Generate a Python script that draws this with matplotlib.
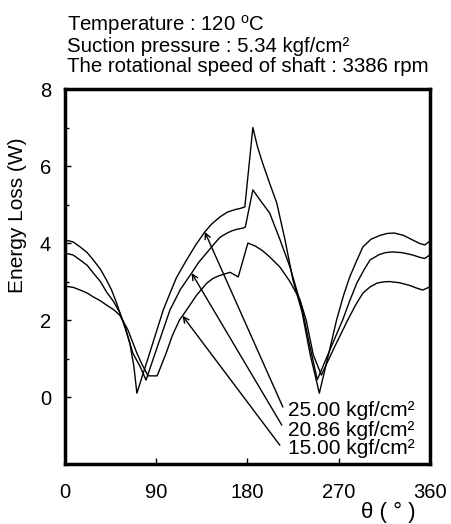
import matplotlib
matplotlib.use("Agg")
from matplotlib import pyplot as plt

plt.rcParams["font.family"] = ["Liberation Sans", "DejaVu Sans"]
plt.rcParams["mathtext.fontset"] = "custom"
plt.rcParams["mathtext.rm"] = "Liberation Sans"

# Energy loss curves, theta in degrees, loss in W.
theta_25 = [0, 8, 15, 22, 28, 35, 41, 46, 51, 54, 59, 64, 68, 71, 85, 97,
            104, 110, 120, 129, 138, 145, 153, 160, 168, 173, 177.5, 185.4,
            190, 195, 202, 209, 217, 225, 234, 242, 251, 260, 268, 275, 281,
            288, 294, 302, 311, 318, 325, 334, 343, 350, 355, 360]
loss_25 = [4.08, 4.03, 3.9, 3.75, 3.56, 3.32, 3.04, 2.78, 2.44, 2.2, 1.85,
           1.4, 0.8, 0.1, 1.26, 2.26, 2.72, 3.1, 3.56, 3.95, 4.29, 4.5, 4.68,
           4.8, 4.87, 4.9, 4.94, 7.0, 6.5, 6.08, 5.55, 5.04, 4.1, 3.04, 2.2,
           1.1, 0.1, 1.1, 2.0, 2.65, 3.12, 3.55, 3.9, 4.1, 4.2, 4.25, 4.26,
           4.2, 4.08, 3.99, 3.95, 4.05]

theta_2086 = [0, 8, 15, 22, 28, 35, 41, 48, 54, 60, 67, 74, 80, 92, 103.6,
              114, 125, 132, 140, 147, 153, 160, 165, 170, 176, 178, 185.4,
              193, 202, 212, 222, 234, 241, 249, 262, 274, 281, 288, 295, 301,
              310, 316, 323, 333, 343, 350, 355, 360]
loss_2086 = [3.74, 3.69, 3.56, 3.42, 3.22, 3.0, 2.73, 2.48, 2.2, 1.75, 1.14,
             0.8, 0.44, 1.37, 2.26, 2.8, 3.22, 3.5, 3.75, 3.97, 4.15, 4.26,
             4.32, 4.36, 4.39, 4.42, 5.38, 5.1, 4.78, 4.1, 3.38, 2.3, 1.4,
             0.45, 1.26, 2.0, 2.5, 2.96, 3.3, 3.56, 3.7, 3.75, 3.77, 3.75,
             3.69, 3.63, 3.6, 3.69]

theta_15 = [0, 8, 15, 22, 28, 35, 41, 48, 54, 62, 71, 76, 82, 91, 100, 106,
            113, 120, 130, 140, 146, 152, 158, 163, 167, 171, 180.5, 188, 195,
            202, 212, 222, 232, 238, 245, 253, 266, 279, 287, 294, 301, 308,
            314, 320, 330, 340, 347, 353, 360]
loss_15 = [2.88, 2.85, 2.78, 2.7, 2.6, 2.5, 2.39, 2.27, 2.13, 1.75, 1.14,
           0.85, 0.55, 0.55, 1.15, 1.6, 2.0, 2.26, 2.65, 2.96, 3.08, 3.15,
           3.2, 3.24, 3.18, 3.12, 4.0, 3.92, 3.8, 3.64, 3.38, 3.0, 2.52, 2.0,
           1.1, 0.57, 1.3, 2.0, 2.4, 2.7, 2.86, 2.96, 2.99, 3.0, 2.97, 2.9,
           2.83, 2.78, 2.86]

labels = ["25.00 kgf/cm²", "20.86 kgf/cm²", "15.00 kgf/cm²"]
# (theta, loss) of arrow tips on each curve, and arrow tails near the labels
arrow_tips = [(138, 4.29), (125, 3.22), (116, 2.11)]
arrow_tails = [(215, -0.26), (214, -0.73), (212, -1.25)]
label_pos = [(220, -0.34), (220, -0.86), (220, -1.35)]

header = ["Temperature : 120 $^\\mathrm{o}$C",
          "Suction pressure : 5.34 kgf/cm²",
          "The rotational speed of shaft : 3386 rpm"]

fig = plt.figure(figsize=(4.51, 5.24), dpi=100)
ax = fig.add_axes([0.144, 0.1145, 0.809, 0.7155])

for xs, ys in ((theta_25, loss_25), (theta_2086, loss_2086),
               (theta_15, loss_15)):
    ax.plot(xs, ys, "-", color="black", lw=1.0)

for tip, tail, pos, lab in zip(arrow_tips, arrow_tails, label_pos, labels):
    ax.annotate("", xy=tip, xytext=tail,
                arrowprops=dict(arrowstyle="->", color="black", lw=1.0,
                                shrinkA=0, shrinkB=0,
                                mutation_scale=10))
    ax.text(pos[0], pos[1], lab, fontsize=15, ha="left", va="center")

ax.set_xlim(0, 360)
ax.set_ylim(-1.74, 8)
ax.set_xticks([0, 90, 180, 270, 360])
ax.set_yticks([0, 2, 4, 6, 8])
ax.set_yticks([1, 3, 5, 7], minor=True)
ax.tick_params(direction="in", labelsize=14.5, length=4, width=1)
ax.tick_params(axis="x", pad=14)
ax.tick_params(axis="y", pad=10)
ax.tick_params(which="minor", direction="in", length=3, width=1)
for side in ax.spines.values():
    side.set_linewidth(2.5)

fig.text(18 / 451, 1 - 215 / 524, "Energy Loss (W)", fontsize=15,
         rotation=90, ha="center", va="center")

fig.text(388 / 451, 1 - 512 / 524, "θ ( ° )", fontsize=16,
         ha="center", va="center")

for i, line in enumerate(header):
    fig.text(67 / 451, 1 - (31 + 20.5 * i) / 524, line, fontsize=14.7,
             ha="left", va="baseline")

fig.savefig("out.png", dpi=100)
